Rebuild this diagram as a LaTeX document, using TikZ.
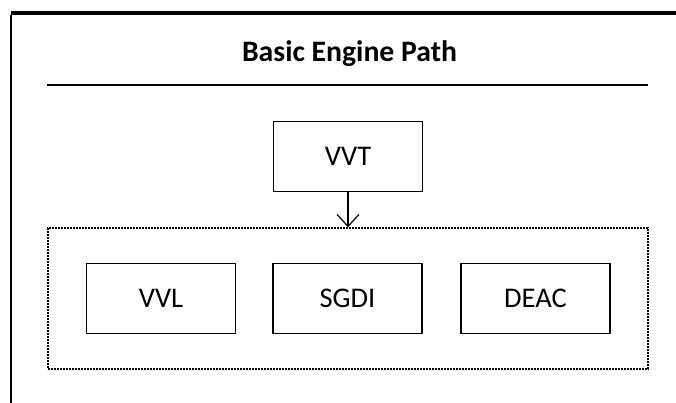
\documentclass[tikz,border=0pt]{standalone}
\usepackage{fontspec}
\setmainfont{Carlito}
\usetikzlibrary{arrows.meta}
\begin{document}
\begin{tikzpicture}[x=1pt,y=-1pt,
  blk/.style={draw=black, line width=1.6pt, minimum width=149pt, minimum height=70pt, inner sep=0pt, font=\fontsize{28.5}{32}\selectfont},
  grp/.style={draw=black, line width=1.4pt, dash pattern=on 2pt off 1pt},
  conn/.style={line width=1.2pt, -{Straight Barb[length=12pt,width=22pt,line width=1.2pt]}}
]
\useasboundingbox (0,0) rectangle (676,403);
% frame
\coordinate (ftl) at (11,13);
\coordinate (ftr) at (676,13);
\coordinate (fbl) at (11,403);
\draw[line width=4pt] (ftl) -- (ftr);
\draw[line width=2.2pt] ([yshift=-2pt]ftl) -- (fbl);
% title
\node[font=\fontsize{29.7}{34}\selectfont\bfseries, anchor=base] (title) at (349.5,62) {Basic Engine Path};
\coordinate (hl) at (47,85);
\coordinate (hr) at (648,85);
\draw[line width=2pt] (hl) -- (hr);
% group box
\node[grp, minimum width=600pt, minimum height=141pt, inner sep=0pt] (grp) at (348,298.5) {};
% boxes
\node[blk] (vvt) at (348,156.5) {VVT};
\node[blk] (vvl) at (161,298.5) {VVL};
\node[blk] (sgdi) at (347.5,298.5) {SGDI};
\node[blk] (deac) at (535.5,298.5) {DEAC};
\draw[conn] (vvt.south) -- (grp.north);
\end{tikzpicture}
\end{document}
